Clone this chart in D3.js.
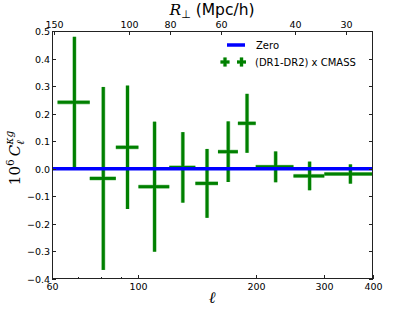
<!DOCTYPE html>
<html>
  <head>
    <meta charset="utf-8">
    <title>Cross power spectrum</title>
    <script src="https://d3js.org/d3.v7.min.js"></script>
  </head>
  <body style="margin:0;background:#fff">
<style>
  text { font-family: "DejaVu Sans", sans-serif; fill: #000; }
  .tick { font-size: 9.5px; }
  .frame { fill: none; stroke: #222; stroke-width: 1; }
</style>
<script type="text/javascript">

  // bins in multipole ell
  var ellLow  = [62, 75, 87.5, 100, 120, 140, 160, 180, 200, 250, 300];
  var ellHigh = [75, 87.5, 100, 120, 140, 160, 180, 200, 250, 300, 400];
  var ellMid  = [68.5, 81.25, 93.75, 110, 130, 150, 170, 190, 225, 275, 350];
  // 10^6 C_ell^{kappa g} and its error
  var cl    = [0.241, -0.035, 0.078, -0.065, 0.005, -0.053, 0.062, 0.165, 0.007, -0.026, -0.019];
  var clErr = [0.238, 0.332, 0.224, 0.236, 0.128, 0.125, 0.110, 0.107, 0.056, 0.052, 0.035];

  // axis ticks
  var xTicks = [60, 100, 200, 300, 400];
  var xMinor = [70, 80, 90];
  var yTicks = [-0.4, -0.3, -0.2, -0.1, 0.0, 0.1, 0.2, 0.3, 0.4, 0.5];
  var rTicks = [150, 100, 80, 60, 40, 30];
  var rTickEll = [60.7, 94.8, 120.5, 163, 252, 341.6];

  var w = 415, h = 312;
  var pL = 52, pR = 373, pT = 31, pB = 279;

  var svg = d3.select("body").append("svg")
    .attr("width", w)
    .attr("height", h);

  var x = d3.scaleLog().domain([60, 400]).range([pL, pR]);
  var y = d3.scaleLinear().domain([-0.4, 0.5]).range([pB, pT]);

  svg.append("clipPath").attr("id", "clip")
    .append("rect")
      .attr("x", pL).attr("y", pT)
      .attr("width", pR - pL).attr("height", pB - pT);

  var plot = svg.append("g").attr("clip-path", "url(#clip)");

  var green = "#008000";
  var halo = "#a8d8a8";
  var idx = d3.range(cl.length);

  // error bars, halo first then solid
  [[halo, 4.2], [green, 3]].forEach(function(s) {
    plot.append("g").selectAll("line.v")
      .data(idx).enter().append("line")
      .attr("x1", function(i) { return x(ellMid[i]); })
      .attr("x2", function(i) { return x(ellMid[i]); })
      .attr("y1", function(i) { return y(cl[i] + clErr[i]); })
      .attr("y2", function(i) { return y(cl[i] - clErr[i]); })
      .attr("stroke", s[0]).attr("stroke-width", s[1]);
    plot.append("g").selectAll("line.h")
      .data(idx).enter().append("line")
      .attr("x1", function(i) { return x(ellLow[i]); })
      .attr("x2", function(i) { return x(ellHigh[i]); })
      .attr("y1", function(i) { return y(cl[i]); })
      .attr("y2", function(i) { return y(cl[i]); })
      .attr("stroke", s[0]).attr("stroke-width", s[1]);
  });

  // zero line
  plot.append("line")
    .attr("x1", pL).attr("x2", pR)
    .attr("y1", y(0)).attr("y2", y(0))
    .attr("stroke", "#0000ff").attr("stroke-width", 3.5);

  // frame
  svg.append("rect").attr("class", "frame")
    .attr("x", pL + 0.5).attr("y", pT + 0.5)
    .attr("width", pR - pL - 1).attr("height", pB - pT - 1);

  var ticks = svg.append("g").attr("stroke", "#222").attr("stroke-width", 1);

  // y ticks, inside, both sides
  yTicks.forEach(function(v) {
    var yy = Math.round(y(v)) + 0.5;
    ticks.append("line").attr("x1", pL).attr("x2", pL + 4).attr("y1", yy).attr("y2", yy);
    ticks.append("line").attr("x1", pR - 4).attr("x2", pR).attr("y1", yy).attr("y2", yy);
    svg.append("text").attr("class", "tick")
      .attr("x", pL - 2).attr("y", yy + 3.5)
      .attr("text-anchor", "end")
      .text(d3.format(".1f")(v).replace("-", "\u2212"));
  });

  // bottom ticks
  xTicks.forEach(function(v) {
    var xx = Math.round(x(v)) + 0.5;
    ticks.append("line").attr("x1", xx).attr("x2", xx).attr("y1", pB).attr("y2", pB - 4);
    svg.append("text").attr("class", "tick")
      .attr("x", xx).attr("y", pB + 11)
      .attr("text-anchor", "middle")
      .text(v);
  });
  xMinor.forEach(function(v) {
    var xx = Math.round(x(v)) + 0.5;
    ticks.append("line").attr("x1", xx).attr("x2", xx).attr("y1", pB).attr("y2", pB - 2);
  });

  // top axis: R_perp
  rTicks.forEach(function(r, i) {
    var xx = Math.round(x(rTickEll[i])) + 0.5;
    ticks.append("line").attr("x1", xx).attr("x2", xx).attr("y1", pT).attr("y2", pT + 4);
    svg.append("text").attr("class", "tick")
      .attr("x", xx).attr("y", pT - 3)
      .attr("text-anchor", "middle")
      .text(r);
  });

  // titles
  var tt = svg.append("text").attr("x", 212).attr("y", 15)
    .attr("text-anchor", "middle").style("font-size", "15.5px");
  tt.append("tspan").style("font-family", "DejaVu Serif").style("font-style", "italic").text("R");
  tt.append("tspan").attr("dy", 3).style("font-size", "11px").text("\u22a5");
  tt.append("tspan").attr("dy", -3).text(" (Mpc/h)");

  svg.append("text").attr("x", 212).attr("y", 303)
    .attr("text-anchor", "middle")
    .style("font-family", "DejaVu Serif").style("font-style", "italic").style("font-size", "16px")
    .text("\u2113");

  var yl = svg.append("text")
    .attr("transform", "translate(20,158) rotate(-90)")
    .attr("text-anchor", "middle")
    .style("font-family", "DejaVu Serif").style("font-size", "15px");
  yl.append("tspan").text("10");
  yl.append("tspan").attr("dy", -6).style("font-size", "10.5px").text("6");
  yl.append("tspan").attr("dy", 6).attr("dx", 3).style("font-style", "italic").text("C");
  yl.append("tspan").attr("dy", 4).style("font-size", "10.5px").style("font-style", "italic").text("\u2113");
  yl.append("tspan").attr("dy", -11).attr("dx", -4).style("font-size", "10.5px").style("font-style", "italic").text("\u03bag");

  // legend
  var lg = svg.append("g");
  lg.append("line").attr("x1", 227).attr("x2", 245).attr("y1", 45).attr("y2", 45)
    .attr("stroke", "#0000ff").attr("stroke-width", 3.5);
  lg.append("text").attr("x", 256).attr("y", 49).style("font-size", "10px").text("Zero");
  [[halo, 4.2], [green, 3]].forEach(function(s) {
    [225, 241.5].forEach(function(px) {
      lg.append("path").attr("d", "M" + (px - 4.5) + ",62H" + (px + 4.5) + "M" + px + ",57.5V66.5")
        .attr("stroke", s[0]).attr("stroke-width", s[1]).attr("fill", "none");
    });
  });
  lg.append("text").attr("x", 255).attr("y", 65.5).style("font-size", "10px").text("(DR1-DR2) x CMASS");

</script>
  </body>
</html>
